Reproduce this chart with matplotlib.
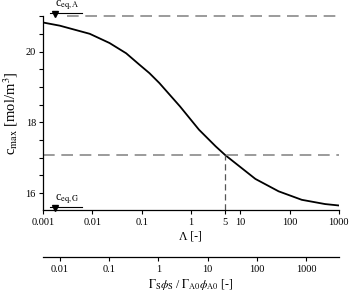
import numpy as np
import matplotlib
matplotlib.use('Agg')
import matplotlib.pyplot as plt

plt.rcParams['font.family'] = ['Liberation Serif', 'DejaVu Serif']
plt.rcParams['mathtext.fontset'] = 'stix'

# data
lam = [0.001, 0.0022, 0.0089, 0.0224, 0.0487, 0.09, 0.144, 0.229, 0.6, 1.46,
       3.18, 5.0, 20.3, 60, 177, 525, 1000]
c_max = [20.82, 20.73, 20.50, 20.24, 19.95, 19.63, 19.39, 19.11, 18.45, 17.79,
         17.32, 17.07, 16.40, 16.05, 15.81, 15.69, 15.65]

c_eq_A = 21.0
c_eq_G = 15.52
lam_mark = 5
c_mark = 17.07
ratio_factor = 4.6  # secondary axis = Lambda * factor

x_ticks = [0.001, 0.01, 0.1, 1, 5, 10, 100, 1000]
x_labels = ['0.001', '0.01', '0.1', '1', '5', '10', '100', '1000']
sec_ticks = [0.01, 0.1, 1, 10, 100, 1000]
sec_labels = ['0.01', '0.1', '1', '10', '100', '1000']

fig = plt.figure(figsize=(3.49, 2.93), dpi=100)
ax = fig.add_axes([0.123, 0.283, 0.848, 0.662])

ax.plot(lam, c_max, color='black', lw=1.3)

# dashed guide lines
dash = (0, (7, 4))
ax.axhline(c_eq_A, xmin=0.08, color='#8a8a8a', lw=1.2, linestyle=dash, clip_on=False)
ax.axhline(c_mark, color='#8a8a8a', lw=1.2, linestyle=dash)
ax.plot([lam_mark, lam_mark], [15.52, c_mark],
        color='#555555', lw=0.9, linestyle=(0, (5, 3)))

ax.set_xscale('log')
ax.set_xlim(0.001, 1000)
ax.set_ylim(15.52, 21.0)
ax.set_xticks(x_ticks)
ax.set_xticklabels(x_labels)
ax.xaxis.set_minor_locator(matplotlib.ticker.NullLocator())
ax.set_yticks([16, 18, 20])
ax.set_yticks(np.arange(16, 21.01, 0.5), minor=True)
ax.tick_params(axis='both', which='both', direction='out', length=3, width=0.8,
               labelsize=7.5, pad=2)
ax.tick_params(axis='x', pad=3)

for s in ['top', 'right']:
    ax.spines[s].set_visible(False)
for s in ['left', 'bottom']:
    ax.spines[s].set_linewidth(0.9)

ax.set_ylabel(r'c$_{\mathrm{max}}$ [mol/m$^3$]', fontsize=10.5, labelpad=4)
ax.set_xlabel('Λ [-]', fontsize=8.5, labelpad=2)

# equilibrium markers: triangle tip on the level, short line above, label on top
for cv, lab in [(c_eq_A, r'c$_{\mathrm{eq,A}}$'), (c_eq_G, r'c$_{\mathrm{eq,G}}$')]:
    ax.plot([0.00175], [cv + 0.07], marker='v', color='black', markersize=4.5,
            clip_on=False)
    ax.plot([0.00138, 0.0061], [cv + 0.09, cv + 0.09], color='black', lw=0.8,
            clip_on=False)
    ax.text(0.00175, cv + 0.12, lab, fontsize=8.5, ha='left', va='bottom')

# secondary axis
sec = ax.secondary_xaxis(-0.242, functions=(lambda x: x * ratio_factor,
                                           lambda x: x / ratio_factor))
sec.set_xticks(sec_ticks)
sec.set_xticklabels(sec_labels)
sec.xaxis.set_minor_locator(matplotlib.ticker.NullLocator())
sec.tick_params(axis='x', direction='out', length=3, width=0.8, labelsize=7.5, pad=3)
sec.spines['bottom'].set_linewidth(0.9)
sec.set_xlabel(r'$\Gamma_{\mathrm{S}}\phi_{\mathrm{S}}$ / $\Gamma_{\mathrm{A0}}\phi_{\mathrm{A0}}$ [-]',
               fontsize=8.5, labelpad=2)

fig.savefig('out.png', dpi=100)
